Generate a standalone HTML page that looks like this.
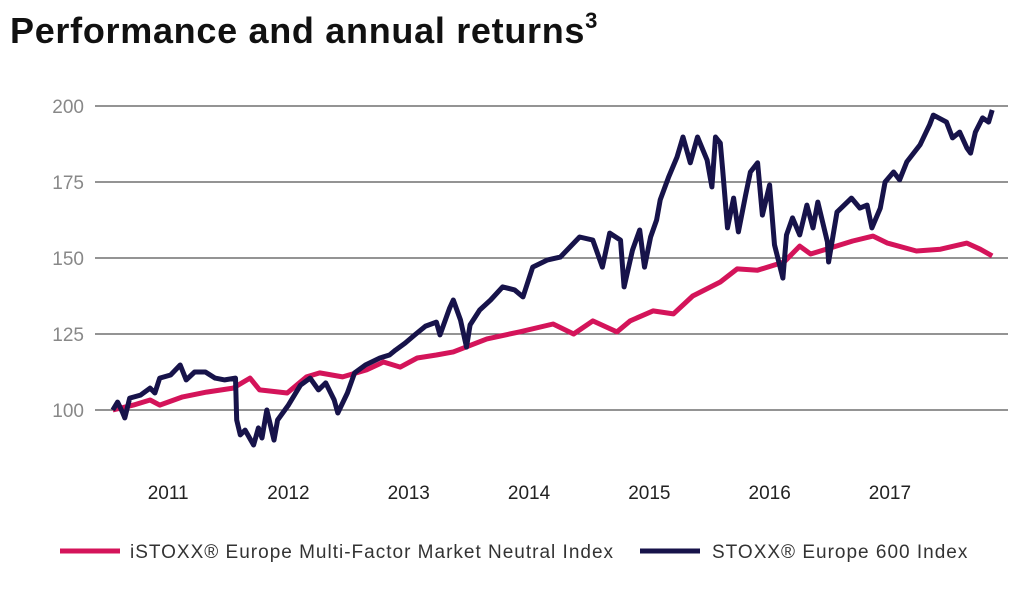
<!DOCTYPE html>
<html><head><meta charset="utf-8"><style>
body{margin:0;background:#fff;width:1020px;height:590px;overflow:hidden;font-family:"Liberation Sans",sans-serif}
</style></head><body>
<svg width="1020" height="590" style="position:absolute;left:0;top:0">
<text x="10" y="43" font-size="36" font-weight="bold" fill="#111" letter-spacing="0.7">Performance and annual returns<tspan font-size="22" dy="-15">3</tspan></text>
<g id="grid"></g><g id="ylab"></g><g id="xlab"></g><g id="series"></g>
<g>
<line x1="60" y1="551" x2="120" y2="551" stroke="#d4145a" stroke-width="5"/>
<text x="130" y="558" font-size="19" fill="#333" letter-spacing="1">iSTOXX® Europe Multi-Factor Market Neutral Index</text>
<line x1="640" y1="551" x2="700" y2="551" stroke="#17134a" stroke-width="5"/>
<text x="712" y="558" font-size="19" fill="#333" letter-spacing="1">STOXX® Europe 600 Index</text>
</g>
</svg>
<script>
const yTicks=[100,125,150,175,200];
const xYears=[2011,2012,2013,2014,2015,2016,2017];
const stoxxT=[2011.04,2011.08,2011.12,2011.14,2011.18,2011.27,2011.35,2011.39,2011.43,2011.52,2011.60,2011.65,2011.72,2011.81,2011.89,2011.97,2012.06,2012.07,2012.10,2012.14,2012.21,2012.25,2012.28,2012.32,2012.38,2012.41,2012.50,2012.60,2012.68,2012.75,2012.81,2012.88,2012.91,2012.99,2013.05,2013.14,2013.26,2013.34,2013.39,2013.47,2013.55,2013.64,2013.73,2013.76,2013.84,2013.87,2013.93,2013.98,2014.01,2014.09,2014.18,2014.28,2014.38,2014.45,2014.53,2014.65,2014.76,2014.92,2015.03,2015.11,2015.17,2015.26,2015.29,2015.36,2015.42,2015.46,2015.51,2015.56,2015.59,2015.66,2015.73,2015.78,2015.84,2015.90,2015.98,2016.02,2016.05,2016.09,2016.11,2016.15,2016.20,2016.24,2016.30,2016.34,2016.40,2016.44,2016.50,2016.54,2016.61,2016.64,2016.69,2016.75,2016.81,2016.86,2016.90,2016.98,2016.99,2017.06,2017.18,2017.25,2017.31,2017.35,2017.42,2017.46,2017.53,2017.58,2017.64,2017.75,2017.83,2017.86,2017.97,2018.02,2018.08,2018.14,2018.17,2018.21,2018.27,2018.32,2018.35];
const stoxxV=[100.0,102.6,99.3,97.4,103.9,104.9,107.2,105.6,110.5,111.5,114.8,109.9,112.5,112.5,110.5,109.9,110.5,96.7,91.8,93.4,88.5,94.1,90.8,100.0,90.1,96.7,101.6,108.2,110.5,106.6,108.9,103.3,99.0,105.6,112.2,114.8,117.1,118.1,119.7,122.0,124.7,127.6,128.9,124.7,133.6,136.2,129.6,120.7,128.0,132.9,136.2,140.5,139.5,137.2,147.0,149.3,150.3,156.9,155.9,147.0,158.2,155.9,140.5,152.6,159.2,147.0,156.9,162.5,169.1,176.6,183.2,189.8,181.3,189.8,182.2,173.4,189.8,187.8,178.9,159.9,169.7,158.6,170.7,178.3,181.3,164.1,174.0,154.3,143.4,157.6,163.2,157.6,167.4,159.9,168.4,155.3,148.7,165.1,169.7,166.4,167.4,159.9,166.4,175.0,178.3,175.7,181.6,187.2,193.8,197.0,194.7,189.5,191.4,186.2,184.5,191.4,196.1,194.7,198.7];
const istoxxT=[2011.04,2011.21,2011.35,2011.43,2011.62,2011.82,2012.04,2012.18,2012.26,2012.49,2012.65,2012.76,2012.95,2013.15,2013.29,2013.43,2013.57,2013.73,2013.87,2014.15,2014.42,2014.70,2014.87,2015.03,2015.23,2015.34,2015.53,2015.70,2015.86,2016.09,2016.23,2016.40,2016.62,2016.75,2016.84,2016.98,2017.19,2017.36,2017.48,2017.72,2017.92,2018.14,2018.25,2018.35];
const istoxxV=[100.0,101.6,103.3,101.6,104.3,105.9,107.2,110.5,106.6,105.6,110.9,112.2,110.9,113.2,115.8,114.1,117.1,118.1,119.1,123.4,125.7,128.3,125.0,129.3,125.7,129.3,132.6,131.6,137.5,142.1,146.4,146.0,148.7,153.9,151.3,153.0,155.6,157.2,154.9,152.3,152.9,154.9,152.9,150.7];
const X0=108,PXY=120.3;
const xs=t=>X0+(t-2011)*PXY;
const ys=v=>410-(v-100)*3.04;
const NS='http://www.w3.org/2000/svg';
const grid=document.getElementById('grid'),ylab=document.getElementById('ylab'),xlab=document.getElementById('xlab'),ser=document.getElementById('series');
yTicks.forEach(v=>{
const l=document.createElementNS(NS,'line');
l.setAttribute('x1',95);l.setAttribute('x2',1008);l.setAttribute('y1',ys(v));l.setAttribute('y2',ys(v));
l.setAttribute('stroke','#555');l.setAttribute('stroke-width','1.2');


grid.appendChild(l);
const t=document.createElementNS(NS,'text');
t.setAttribute('x',84);t.setAttribute('y',ys(v)+7);t.setAttribute('text-anchor','end');
t.setAttribute('font-size','19');t.setAttribute('fill','#888');t.textContent=v;


ylab.appendChild(t);
});
xYears.forEach(y=>{
const t=document.createElementNS(NS,'text');
t.setAttribute('x',xs(y+0.5));t.setAttribute('y',499);t.setAttribute('text-anchor','middle');
t.setAttribute('font-size','19');t.setAttribute('fill','#222');t.textContent=y;


xlab.appendChild(t);
});
function draw(T,V,color,name){
const p=document.createElementNS(NS,'polyline');
p.setAttribute('points',T.map((t,i)=>xs(t).toFixed(1)+','+ys(V[i]).toFixed(1)).join(' '));
p.setAttribute('fill','none');p.setAttribute('stroke',color);p.setAttribute('stroke-width','5');
p.setAttribute('stroke-linejoin','round');


ser.appendChild(p);
}
draw(istoxxT,istoxxV,'#d4145a','istoxx-series-line');
draw(stoxxT,stoxxV,'#17134a','stoxx600-series-line');
</script>
</body></html>
